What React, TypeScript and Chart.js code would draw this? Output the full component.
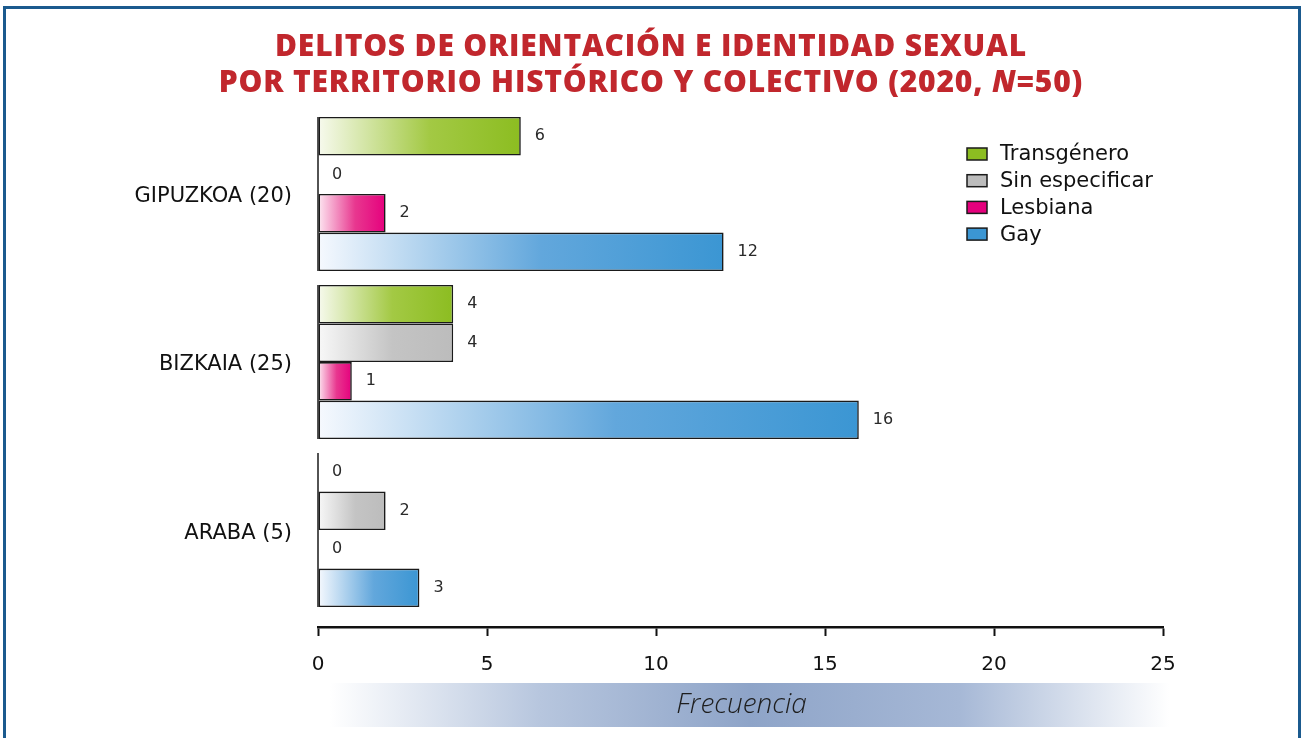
import React, { useEffect, useRef } from 'react';
import { Chart, registerables } from 'chart.js';

Chart.register(...registerables);

const categories = ['GIPUZKOA (20)', 'BIZKAIA (25)', 'ARABA (5)'];
const seriesNames = ['Transgénero', 'Sin especificar', 'Lesbiana', 'Gay'];
const transgenero = [6, 4, 0];
const sinEspecificar = [0, 4, 2];
const lesbiana = [2, 1, 0];
const gay = [12, 16, 3];
const xTicks = [0, 5, 10, 15, 20, 25];
const xTitle = 'Frecuencia';

const seriesValues = [transgenero, sinEspecificar, lesbiana, gay];

const palette = [
  { light: '#f7faee', mid: '#a3c944', dark: '#8cbd21' },
  { light: '#f8f8f8', mid: '#c4c4c4', dark: '#bcbcbc' },
  { light: '#fde8f2', mid: '#e8378f', dark: '#e5007d' },
  { light: '#f6f9fe', mid: '#62a7dc', dark: '#3b96d3' },
];

const FONT = "'DejaVu Sans', 'Noto Sans', sans-serif";
const TITLE_FONT = "'Open Sans', 'Noto Sans', sans-serif";

const makeBg = (si: number) => (ctx: any) => {
  const chart = ctx.chart;
  const xs = chart.scales && chart.scales.x;
  const p = palette[si];
  if (!xs || ctx.type !== 'data' || !chart.chartArea) return p.dark;
  const v = ctx.raw && typeof ctx.raw.x === 'number' ? ctx.raw.x : 0;
  const x0 = xs.getPixelForValue(0);
  const x1 = xs.getPixelForValue(v);
  if (!isFinite(x0) || !isFinite(x1) || x1 - x0 < 1) return p.dark;
  const g = chart.ctx.createLinearGradient(x0, 0, x1, 0);
  g.addColorStop(0, p.light);
  g.addColorStop(0.55, p.mid);
  g.addColorStop(1, p.dark);
  return g;
};

const decorPlugin = {
  id: 'decor',
  beforeDraw(chart: any) {
    const { ctx, chartArea } = chart;
    const xs = chart.scales.x;
    const top = xs.top + 56;
    const h = 44;
    const left = chartArea.left + 12;
    const right = chartArea.right + 6;
    const g = ctx.createLinearGradient(left, 0, right, 0);
    g.addColorStop(0, 'rgba(255,255,255,1)');
    g.addColorStop(0.25, '#b7c6de');
    g.addColorStop(0.5, '#8ea4c8');
    g.addColorStop(0.75, '#a6b8d6');
    g.addColorStop(1, 'rgba(255,255,255,1)');
    ctx.save();
    ctx.fillStyle = g;
    ctx.fillRect(left, top, right - left, h);
    ctx.fillStyle = '#1e1e1e';
    ctx.font = `italic 300 28px 'Open Sans', sans-serif`;
    ctx.textAlign = 'center';
    ctx.textBaseline = 'middle';
    ctx.fillText(xTitle, (left + right) / 2 - 8, top + h / 2);
    ctx.restore();
  },
  afterDatasetsDraw(chart: any) {
    const { ctx } = chart;
    const xs = chart.scales.x;
    const x0 = xs.getPixelForValue(0);
    const n = chart.data.datasets.length;
    const first = chart.getDatasetMeta(0);
    const last = chart.getDatasetMeta(n - 1);
    ctx.save();
    ctx.strokeStyle = '#1a1a1a';
    ctx.lineWidth = 1.5;
    for (let i = 0; i < categories.length; i++) {
      const a = first.data[i];
      const b = last.data[i];
      if (!a || !b) continue;
      const t = a.y - a.height / 2;
      const btm = b.y + b.height / 2;
      ctx.beginPath();
      ctx.moveTo(x0, t);
      ctx.lineTo(x0, btm);
      ctx.stroke();
    }
    ctx.fillStyle = '#2a2a2a';
    ctx.font = `16px ${FONT}`;
    ctx.textAlign = 'left';
    ctx.textBaseline = 'middle';
    for (let d = 0; d < n; d++) {
      const meta = chart.getDatasetMeta(d);
      meta.data.forEach((el: any, i: number) => {
        const v = seriesValues[d][i];
        ctx.fillText(String(v), el.x + 14, el.y);
      });
    }
    ctx.restore();
  },
  afterDraw(chart: any) {
    const { ctx } = chart;
    ctx.save();
    const sx = 967;
    const sy0 = 154;
    const step = 26.7;
    ctx.font = `21px ${FONT}`;
    ctx.textAlign = 'left';
    ctx.textBaseline = 'middle';
    chart.data.datasets.forEach((ds: any, i: number) => {
      const cy = sy0 + step * i;
      ctx.fillStyle = palette[i].dark;
      ctx.fillRect(sx, cy - 6, 20, 12);
      ctx.strokeStyle = '#1a1a1a';
      ctx.lineWidth = 1.5;
      ctx.strokeRect(sx, cy - 6, 20, 12);
      ctx.fillStyle = '#111';
      ctx.fillText(ds.label, 1000, cy + 1);
    });
    ctx.restore();
  },
};

export default function App() {
  const ref = useRef<HTMLCanvasElement | null>(null);

  useEffect(() => {
    if (!ref.current) return;
    const chart = new Chart(ref.current, {
      type: 'bar',
      data: {
        datasets: seriesNames.map((name, si) => ({
          label: name,
          data: seriesValues[si].map((v, i) => ({ x: v, y: i })),
          backgroundColor: makeBg(si),
          borderColor: '#1a1a1a',
          borderWidth: 1.6,
          borderSkipped: false,
          categoryPercentage: 0.917,
          barPercentage: 1,
        })),
      },
      options: {
        indexAxis: 'y',
        animation: false,
        responsive: false,
        maintainAspectRatio: false,
        layout: { padding: { top: 110, right: 139, bottom: 0, left: 0 } },
        plugins: {
          legend: { display: false },
          title: { display: false },
          tooltip: { enabled: false },
        },
        scales: {
          y: {
            type: 'linear',
            offset: false,
            reverse: true,
            min: -0.5,
            max: 2.577,
            afterBuildTicks: (s: any) => {
              s.ticks = categories.map((_, i) => ({ value: i }));
            },
            afterFit: (s: any) => {
              s.width = 318;
            },
            grid: { display: false, offset: false },
            border: { display: false },
            ticks: {
              callback: (_v: any, i: number) => categories[i],
              color: '#111',
              padding: 18,
              labelOffset: 3,
              autoSkip: false,
              font: { family: FONT, size: 21 },
            },
          },
          x: {
            type: 'linear',
            min: 0,
            max: 25,
            afterBuildTicks: (s: any) => {
              s.ticks = xTicks.map((v) => ({ value: v }));
            },
            afterFit: (s: any) => {
              s.height = 111;
            },
            grid: {
              drawOnChartArea: false,
              drawTicks: true,
              tickLength: 9,
              tickWidth: 2,
              tickColor: '#111',
            },
            border: { display: true, color: '#111', width: 2.5 },
            ticks: {
              color: '#111',
              padding: 17,
              maxRotation: 0,
              autoSkip: false,
              font: { family: FONT, size: 20 },
            },
          },
        },
      },
      plugins: [decorPlugin],
    } as any);
    return () => chart.destroy();
  }, []);

  return (
    <div style={{ position: 'fixed', left: 0, top: 0, width: 1302, height: 738, overflow: 'hidden', background: '#fff' }}>
      <div
        style={{
          position: 'absolute',
          left: 3,
          top: 6,
          width: 1298,
          height: 800,
          boxSizing: 'border-box',
          borderTop: '3px solid #1b5a8e',
          borderLeft: '3px solid #1b5a8e',
          borderRight: '3px solid #1b5a8e',
        }}
      />
      <canvas ref={ref} width={1302} height={738} style={{ position: 'absolute', left: 0, top: 0, width: 1302, height: 738 }} />
      <div
        style={{
          position: 'absolute',
          left: 0,
          top: 27,
          width: 1302,
          textAlign: 'center',
          color: '#c1272d',
          fontFamily: TITLE_FONT,
          fontWeight: 800,
          fontSize: 30,
          letterSpacing: '0.8px',
          lineHeight: '36px',
          whiteSpace: 'nowrap',
        }}
      >
        <div>DELITOS DE ORIENTACIÓN E IDENTIDAD SEXUAL</div>
        <div>
          POR TERRITORIO HISTÓRICO Y COLECTIVO (2020, <i>N</i>=50)
        </div>
      </div>
    </div>
  );
}
